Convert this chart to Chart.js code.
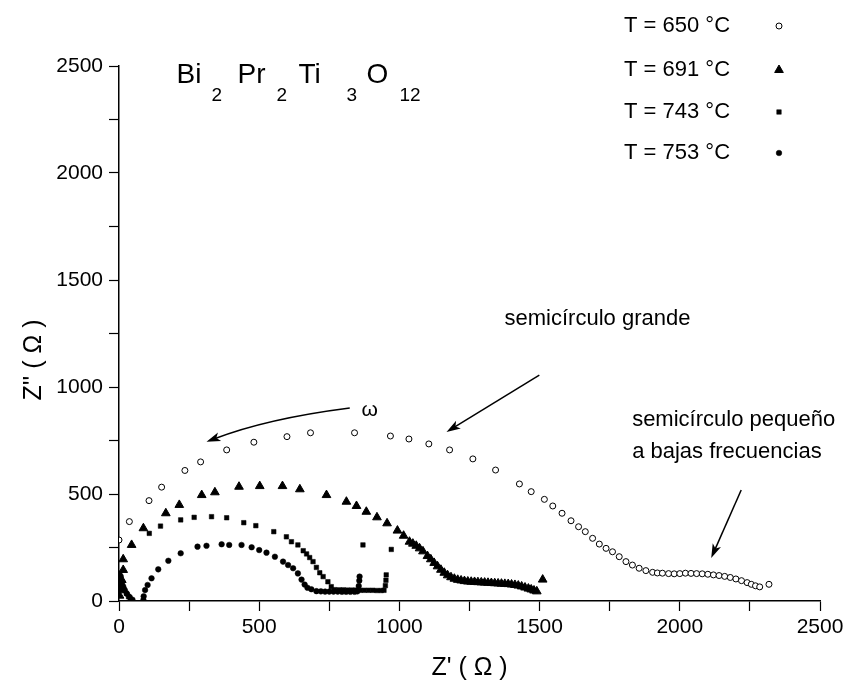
<!DOCTYPE html>
<html><head><meta charset="utf-8">
<script src="https://cdn.jsdelivr.net/npm/chart.js@4"></script>
<style>html,body{margin:0;padding:0;background:#fff;}canvas{display:block;}</style>
</head><body>
<canvas id="c" width="857" height="683"></canvas>
<script>
const FONT = "'Liberation Sans', Arial, Helvetica, sans-serif";

// Tick labels
const tickValues = [0, 500, 1000, 1500, 2000, 2500];
const seriesLabels = ['T = 650 °C', 'T = 691 °C', 'T = 743 °C', 'T = 753 °C'];

// T = 650 °C (open circles)
const s650x = [0, 37, 107, 152, 235, 291, 384, 481, 599, 683, 840, 968, 1034, 1105, 1179, 1262, 1343, 1428, 1470, 1517, 1547, 1580, 1612, 1639, 1663, 1689, 1713, 1737, 1760, 1784, 1808, 1831, 1855, 1879, 1903, 1920, 1938, 1960, 1980, 2000, 2020, 2040, 2060, 2080, 2100, 2120, 2140, 2160, 2180, 2200, 2220, 2240, 2255, 2270, 2285, 2318];
const s650y = [285, 371, 469, 532, 610, 650, 706, 742, 768, 786, 786, 771, 757, 734, 706, 664, 612, 547, 511, 475, 444, 410, 375, 347, 324, 293, 266, 246, 230, 207, 184, 168, 153, 142, 134, 131, 130, 128, 127, 128, 130, 129, 128, 127, 125, 122, 119, 115, 110, 103, 95, 86, 78, 71, 66, 78];

// T = 691 °C (filled triangles)
const s691x = [2, 5, 8, 10, 15, 15, 45, 87, 167, 215, 295, 342, 428, 502, 583, 645, 740, 811, 847, 882, 920, 956, 993, 1015, 1036, 1048, 1060, 1072, 1084, 1100, 1112, 1124, 1136, 1148, 1160, 1172, 1184, 1196, 1208, 1220, 1232, 1244, 1256, 1268, 1280, 1292, 1304, 1316, 1328, 1340, 1352, 1364, 1376, 1388, 1400, 1412, 1424, 1436, 1448, 1460, 1470, 1480, 1490, 1511];
const s691y = [25, 50, 75, 98, 145, 195, 262, 340, 410, 449, 495, 508, 534, 537, 537, 522, 495, 464, 444, 417, 391, 363, 329, 305, 277, 268, 258, 246, 232, 210, 195, 178, 162, 146, 132, 120, 111, 104, 99, 96, 93, 91, 90, 89, 88, 87, 86, 85, 84, 83, 82, 81, 80, 79, 77, 75, 72, 68, 63, 58, 54, 49, 45, 100];

// T = 743 °C (small squares)
const s743x = [3, 7, 12, 18, 26, 34, 42, 108, 148, 220, 268, 330, 384, 445, 488, 552, 597, 615, 638, 657, 669, 680, 692, 704, 716, 728, 745, 757, 769, 785, 800, 815, 830, 845, 860, 875, 890, 905, 920, 935, 945, 950, 952, 953, 870, 971];
const s743y = [130, 100, 75, 55, 36, 20, 8, 316, 350, 379, 391, 394, 389, 366, 352, 324, 300, 277, 262, 235, 220, 203, 184, 157, 132, 114, 90, 67, 53, 52, 52, 51, 51, 51, 50, 50, 50, 50, 49, 49, 50, 72, 97, 122, 262, 241];

// T = 753 °C (filled circles)
const s753x = [6, 10, 15, 21, 29, 38, 48, 87, 88, 93, 102, 116, 140, 176, 220, 280, 312, 366, 393, 437, 473, 500, 526, 556, 585, 603, 621, 638, 651, 662, 672, 686, 704, 720, 735, 750, 765, 780, 795, 810, 825, 840, 850, 855, 857, 858];
const s753y = [115, 90, 68, 50, 33, 18, 6, 5, 22, 51, 75, 106, 148, 188, 223, 254, 258, 265, 262, 262, 251, 238, 226, 207, 184, 168, 153, 129, 100, 77, 62, 55, 46, 45, 44, 44, 44, 44, 43, 43, 43, 43, 45, 70, 95, 114];

function pts(xs, ys) { return xs.map((x, i) => ({x: x, y: ys[i]})); }

const styles = [
  {pointStyle: 'circle', radius: 3, bg: '#fff', border: '#000', bw: 1},
  {pointStyle: 'triangle', radius: 5, bg: '#000', border: '#000', bw: 1},
  {pointStyle: 'rect', radius: 3.2, bg: '#000', border: '#000', bw: 0.5},
  {pointStyle: 'circle', radius: 2.8, bg: '#000', border: '#000', bw: 0.5}
];
const seriesData = [pts(s650x, s650y), pts(s691x, s691y), pts(s743x, s743y), pts(s753x, s753y)];

// annotations in data coordinates
const arrowOmega = [[823, 902], [529, 853], [312, 744]];
const arrowGrande = [[1499, 1056], [1168, 790]];
const arrowPeq = [[2219, 519], [2112, 201]];

function drawHead(ctx, fx, fy, tx, ty) {
  const ang = Math.atan2(ty - fy, tx - fx);
  const L = 14, W = 4.5;
  ctx.beginPath();
  ctx.moveTo(tx, ty);
  ctx.lineTo(tx - L * Math.cos(ang) + W * Math.sin(ang), ty - L * Math.sin(ang) - W * Math.cos(ang));
  ctx.lineTo(tx - L * 0.75 * Math.cos(ang), ty - L * 0.75 * Math.sin(ang));
  ctx.lineTo(tx - L * Math.cos(ang) - W * Math.sin(ang), ty - L * Math.sin(ang) + W * Math.cos(ang));
  ctx.closePath();
  ctx.fill();
}

const annotPlugin = {
  id: 'annot',
  afterDraw(chart) {
    const ctx = chart.ctx, xs = chart.scales.x, ys = chart.scales.y;
    const P = (p) => [xs.getPixelForValue(p[0]), ys.getPixelForValue(p[1])];
    ctx.save();
    ctx.fillStyle = '#000'; ctx.strokeStyle = '#000'; ctx.lineWidth = 1.5;
    // omega arrow (curved)
    const a = P(arrowOmega[0]), c = P(arrowOmega[1]), b = P(arrowOmega[2]);
    ctx.beginPath(); ctx.moveTo(a[0], a[1]); ctx.quadraticCurveTo(c[0], c[1], b[0] + 8, b[1] - 3); ctx.stroke();
    drawHead(ctx, c[0], c[1], b[0], b[1]);
    // straight arrows
    [arrowGrande, arrowPeq].forEach(ar => {
      const s = P(ar[0]), t = P(ar[1]);
      ctx.beginPath(); ctx.moveTo(s[0], s[1]); ctx.lineTo(t[0] + (s[0]-t[0])*0.05, t[1] + (s[1]-t[1])*0.05); ctx.stroke();
      drawHead(ctx, s[0], s[1], t[0], t[1]);
    });
    // texts
    ctx.textBaseline = 'middle'; ctx.textAlign = 'left';
    ctx.font = '22px ' + FONT;
    let p = P([1375, 1318]); ctx.fillText('semicírculo grande', p[0], p[1]);
    p = P([1830, 846]); ctx.fillText('semicírculo pequeño', p[0], p[1]);
    p = P([1830, 696]); ctx.fillText('a bajas frecuencias', p[0], p[1]);
    ctx.font = '21px ' + FONT; ctx.textAlign = 'center';
    p = P([894, 893]); ctx.fillText('ω', p[0], p[1]);
    // formula title
    ctx.textBaseline = 'alphabetic'; ctx.textAlign = 'left';
    p = P([205, 2421]);
    const base = p[1], sub = base + 18;
    const parts = [['Bi', 0, 0], ['2', 1, 35], ['Pr', 0, 61], ['2', 1, 100], ['Ti', 0, 122], ['3', 1, 170], ['O', 0, 190], ['12', 1, 223]];
    parts.forEach(([t, s, dx]) => {
      ctx.font = (s ? '19px ' : '28px ') + FONT;
      ctx.fillText(t, p[0] + dx, s ? sub : base);
    });
    // y axis title
    ctx.save();
    ctx.translate(34, 360); ctx.rotate(-Math.PI / 2);
    ctx.font = '25px ' + FONT; ctx.textAlign = 'center'; ctx.textBaseline = 'middle';
    ctx.fillText("Z'' ( Ω )", 0, 0);
    ctx.restore();
    // legend
    const rowY = [26, 70, 112, 153];
    ctx.font = '22px ' + FONT; ctx.textBaseline = 'middle'; ctx.textAlign = 'left';
    seriesLabels.forEach((lab, i) => {
      ctx.fillStyle = '#000';
      ctx.fillText(lab, 624, rowY[i]);
      const st = styles[i];
      ctx.fillStyle = st.bg; ctx.strokeStyle = st.border; ctx.lineWidth = st.bw;
      Chart.helpers.drawPoint(ctx, {pointStyle: st.pointStyle, radius: st.radius, rotation: 0, borderWidth: st.bw}, 779, rowY[i]);
    });
    ctx.restore();
  }
};

const axisCommon = {
  type: 'linear', min: 0, max: 2500,
  border: {display: true, color: '#000', width: 1.5},
  grid: {display: true, drawOnChartArea: false, drawTicks: true, tickLength: 10, tickColor: '#000', tickWidth: 1.2},
};

new Chart(document.getElementById('c'), {
  type: 'scatter',
  data: {
    datasets: seriesData.map((d, i) => ({
      label: seriesLabels[i], data: d,
      pointStyle: styles[i].pointStyle, pointRadius: styles[i].radius,
      pointBackgroundColor: styles[i].bg, pointBorderColor: styles[i].border, pointBorderWidth: styles[i].bw,
      showLine: false
    }))
  },
  options: {
    responsive: false, animation: false, devicePixelRatio: 1,
    layout: {padding: {left: 0, top: 66, right: 37, bottom: 0}},
    plugins: {legend: {display: false}, tooltip: {enabled: false}},
    scales: {
      x: Object.assign({}, axisCommon, {
        ticks: {stepSize: 250, autoSkip: false, maxRotation: 0, padding: 4, color: '#000', font: {family: FONT, size: 21},
          callback: v => tickValues.includes(v) ? String(v) : ''},
        title: {display: true, text: "Z' ( Ω )", color: '#000', font: {family: FONT, size: 25}, padding: {top: 0, bottom: 0}},
        afterFit: s => { s.height = 82; }
      }),
      y: Object.assign({}, axisCommon, {
        ticks: {stepSize: 250, autoSkip: false, padding: 6, color: '#000', font: {family: FONT, size: 21},
          callback: v => tickValues.includes(v) ? String(v) : ''},
        title: {display: false},
        afterFit: s => { s.width = 119; }
      })
    }
  },
  plugins: [annotPlugin]
});
</script>
</body></html>
